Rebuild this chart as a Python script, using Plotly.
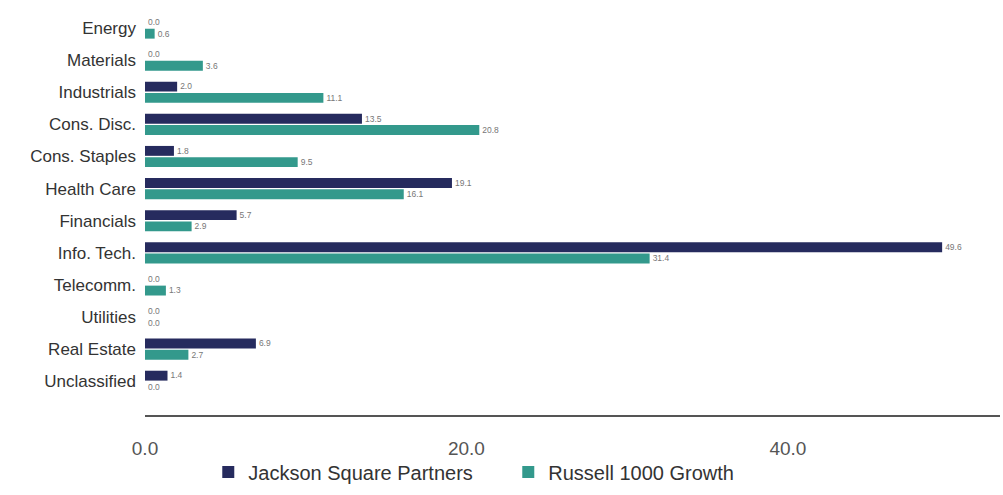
import plotly.graph_objects as go

sectors = ["Energy", "Materials", "Industrials", "Cons. Disc.", "Cons. Staples", "Health Care",
           "Financials", "Info. Tech.", "Telecomm.", "Utilities", "Real Estate", "Unclassified"]
jsp = [0.0, 0.0, 2.0, 13.5, 1.8, 19.1, 5.7, 49.6, 0.0, 0.0, 6.9, 1.4]
r1000g = [0.6, 3.6, 11.1, 20.8, 9.5, 16.1, 2.9, 31.4, 1.3, 0.0, 2.7, 0.0]
x_ticks = [0, 20, 40]

NAVY = "#262b5e"
TEAL = "#33998c"
FONT = "Liberation Sans, Arial, sans-serif"

fig = go.Figure()
for name, vals, color in [("Jackson Square Partners", jsp, NAVY), ("Russell 1000 Growth", r1000g, TEAL)]:
    fig.add_trace(go.Bar(
        y=sectors, x=vals, name=name, orientation="h",
        marker=dict(color=color, line=dict(width=0)),
        text=[f"{v:.1f}" for v in vals], textposition="outside",
        textfont=dict(size=12, color="#777777", family=FONT),
        cliponaxis=False,
    ))

fig.update_layout(
    width=1003, height=495,
    margin=dict(l=145, r=3, t=12, b=78),
    paper_bgcolor="white", plot_bgcolor="white",
    barmode="group", bargap=0.3, bargroupgap=0.12,
    font=dict(family=FONT, color="#444444"),
    # legend kept inside the page bottom, otherwise it pushes the plot area up
    legend=dict(orientation="h", x=0.074, xanchor="left", y=-0.19, yanchor="bottom",
                font=dict(size=20, color="#333333"), traceorder="normal",
                entrywidth=255, entrywidthmode="pixels",
                bgcolor="rgba(0,0,0,0)"),
)
fig.update_xaxes(
    range=[0, 53.2], tickvals=x_ticks, ticktext=[f"{t:.1f}" for t in x_ticks],
    showgrid=False, zeroline=False, showline=True, linecolor="#555555", linewidth=1.5,
    tickfont=dict(size=19, color="#555555"), ticklabelstandoff=15, automargin=False,
)
fig.update_yaxes(
    categoryorder="array", categoryarray=sectors, range=[12.05, -0.5],
    showgrid=False, zeroline=False, showline=False,
    tickfont=dict(size=17, color="#333333"), ticklabelstandoff=8, automargin=False,
)

# page body has a default 8px margin; drop it so the figure sits at the window corner
fig.write_html("out.html", config={"displayModeBar": False},
               post_script="document.body.style.margin='0';")
